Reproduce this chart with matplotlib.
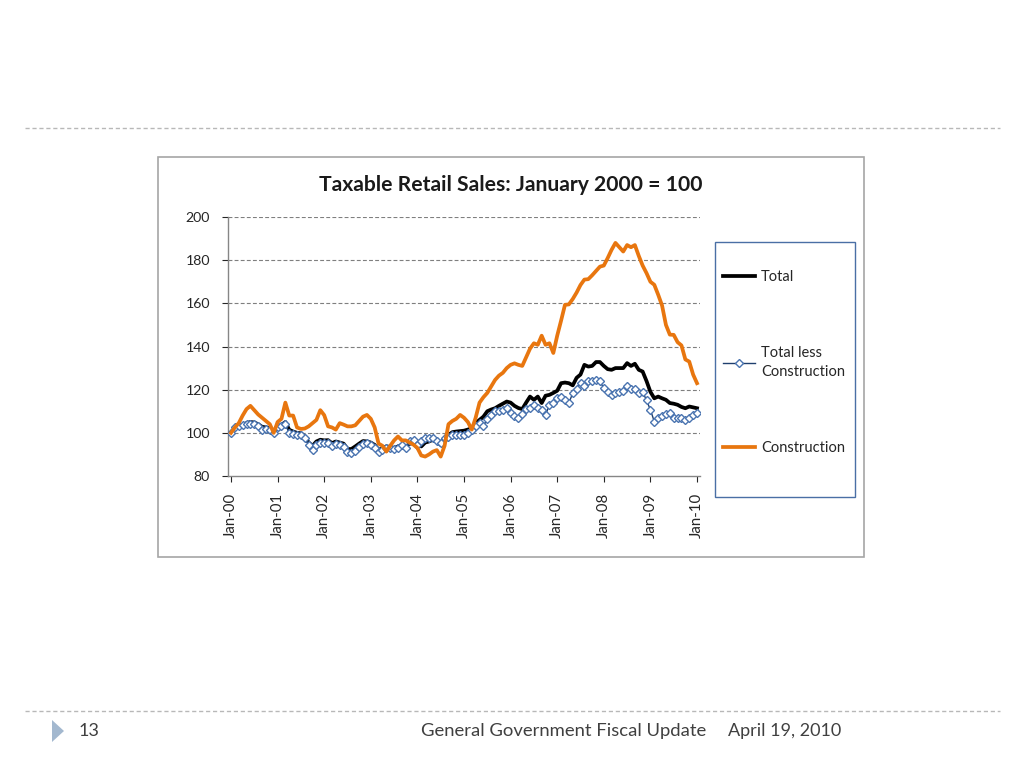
import matplotlib
matplotlib.use("Agg")
import matplotlib.pyplot as plt
from matplotlib.lines import Line2D
from matplotlib.patches import Rectangle, Polygon
import numpy as np

plt.rcParams['font.family'] = ['Lato', 'DejaVu Sans']

# ---------------- data (monthly index, Jan 2000 = 100) ----------------
year_labels = ['Jan-00', 'Jan-01', 'Jan-02', 'Jan-03', 'Jan-04', 'Jan-05',
               'Jan-06', 'Jan-07', 'Jan-08', 'Jan-09', 'Jan-10']

total = [
    100, 102.5, 103, 103.7, 104.5, 105, 104.8, 104, 102.8, 102.5, 102.2, 100.6,
    102.9, 103.7, 105, 101.4, 100.6, 100, 99.8, 98.3, 95.5, 94, 96, 96.8,
    96.5, 96.6, 95.2, 96, 95.5, 95, 92.5, 92.5, 93.7, 95, 96.2, 96,
    95.5, 94.4, 92.1, 92.9, 93.7, 93.5, 92.9, 93.7, 94.4, 93.5, 95, 96,
    94.5, 93.7, 95.5, 96, 96.8, 96, 94.4, 97, 99, 100.3, 100.6, 100.8,
    101, 101.5, 102.2, 104.5, 106, 107.5, 110, 110.8, 111.4, 112.5, 113.5, 114.5,
    114, 112.5, 111.5, 111, 114, 116.8, 115.3, 116.8, 113.8, 117.2, 117.6, 118.5,
    119.5, 123, 123.3, 123, 122, 125.5, 127, 131.5, 130.7, 131, 132.8, 132.8,
    131, 129.5, 129.2, 130, 130, 130, 132.3, 131, 132, 129.2, 128.4, 124,
    119, 116, 116.8, 116, 115.3, 113.8, 113.5, 113, 112, 111.4, 112.2, 111.8,
    111.4,
]

total_less_construction = [
    100, 102.5, 103, 103.5, 104, 104.3, 104, 103, 101.5, 101.8, 101.5, 100,
    102.5, 103, 104, 100, 99.5, 99.2, 98.8, 97.5, 94.5, 92, 94.5, 95.2,
    95.5, 95.5, 94, 95, 94.5, 93.5, 91, 90.6, 91.5, 93.5, 95, 95.2,
    94.5, 93, 91, 92, 93, 93, 92.5, 93, 94.5, 93, 96, 96.8,
    94.5, 96, 97.5, 97.5, 97.5, 96, 95.2, 97.5, 98.3, 99.1, 99.1, 99.1,
    99.1, 100, 101.4, 103, 104.5, 103, 106.5, 108.3, 109.9, 110.3, 110.7, 111.4,
    109.1, 107.6, 106.8, 108.5, 111, 111.4, 113, 111.4, 110.7, 108.3, 113, 113.8,
    116, 116.8, 115.3, 113.8, 118.4, 120.5, 123, 121.5, 123.8, 124.2, 124.5, 123.8,
    120.7, 119, 117.6, 118.4, 119, 119.5, 121.5, 120.2, 120.5, 118.4, 119.1, 115,
    110.7, 105.2, 106.8, 107.6, 108.5, 109.1, 106.8, 107, 106.8, 106, 107, 108.3,
    109.1,
]

construction = [
    100, 102.5, 104.5, 108, 111, 112.5, 110.5, 108.5, 107, 105.5, 104, 100,
    105, 106.5, 114, 108, 108, 102.5, 101.8, 102, 103, 104.5, 106, 110.5,
    108.2, 103, 102.5, 101.5, 104.5, 103.8, 103, 103, 103.5, 105.5, 107.5, 108.3,
    106.5, 102.5, 95, 94, 91.3, 94, 96.5, 98.3, 96.5, 96.5, 95.5, 94.5,
    93, 89.5, 89, 90, 91.3, 92, 89, 94, 104, 105.5, 106.5, 108.3,
    107, 105, 101.5, 107, 114, 116.5, 118.5, 121.5, 124.5, 126.5, 127.8, 130,
    131.5, 132.2, 131.5, 131, 135, 139, 141.5, 140.8, 145, 140.8, 141.5, 137,
    145, 152, 159.3, 159.5, 162, 165, 168.5, 171, 171.2, 173, 175, 177,
    177.5, 181, 184.8, 188, 186, 184, 187, 186, 187, 182, 177.5, 174,
    170, 168.6, 164, 159, 150, 145.5, 145.4, 142, 140.5, 134, 133, 127,
    123,
]

months = np.arange(len(total))
year_ticks = np.arange(0, len(total), 12)

# ---------------- figure ----------------
W, H = 1024, 768
fig = plt.figure(figsize=(W / 100, H / 100), dpi=100)
fig.patch.set_facecolor('white')

def fx(px):
    return px / W

def fy(py):
    return 1 - py / H

# slide decorations
fig.add_artist(Line2D([fx(25), fx(1000)], [fy(128), fy(128)], color='#b8b8b8',
                      lw=1, ls=(0, (3, 2)), transform=fig.transFigure))
fig.add_artist(Line2D([fx(25), fx(1000)], [fy(711), fy(711)], color='#b8b8b8',
                      lw=1, ls=(0, (3, 2)), transform=fig.transFigure))
fig.add_artist(Polygon([[fx(52), fy(720)], [fx(52), fy(742)], [fx(64), fy(731)]],
                       closed=True, facecolor='#a3b8cf', edgecolor='none',
                       transform=fig.transFigure))
fig.text(fx(79), fy(731), '13', fontsize=13, color='#404040', va='center', ha='left')
fig.text(fx(706), fy(731), 'General Government Fiscal Update', fontsize=13.3,
         color='#404040', va='center', ha='right')
fig.text(fx(728), fy(731), 'April 19, 2010', fontsize=13, color='#404040',
         va='center', ha='left')

# chart frame
fig.add_artist(Rectangle((fx(158), fy(557)), fx(864) - fx(158), fy(157) - fy(557),
                         fill=False, edgecolor='#a6a6a6', lw=1.2,
                         transform=fig.transFigure))

# axes
ax_left, ax_right = 228, 700
ax_top, ax_bottom = 217, 476
ax = fig.add_axes([fx(ax_left), fy(ax_bottom), fx(ax_right) - fx(ax_left),
                   fy(ax_top) - fy(ax_bottom)])
ax.set_xlim(-0.77, 120.77)
ax.set_ylim(80, 200)

l1, = ax.plot(months, total, color='black', lw=2.7, solid_joinstyle='round',
              label='Total', zorder=3)
l2, = ax.plot(months, total_less_construction, color='#1f3f6e', lw=1.0,
              marker='D', markersize=4.2, markerfacecolor='white',
              markeredgecolor='#4a74b0', markeredgewidth=1.0,
              label='Total less\nConstruction', zorder=4)
l3, = ax.plot(months, construction, color='#e8760f', lw=2.7,
              solid_joinstyle='round', label='Construction', zorder=5)

ax.set_yticks(np.arange(80, 201, 20))
ax.set_xticks(year_ticks)
ax.set_xticklabels(year_labels, rotation=90)
ax.tick_params(axis='both', colors='#262626', length=4,
               direction='out', width=0.8)
ax.tick_params(axis='x', labelsize=10.8, pad=8)
ax.tick_params(axis='y', labelsize=10.2, pad=9)
for t in ax.get_xticklines() + ax.get_yticklines():
    t.set_color('#868686')
for y in range(100, 201, 20):
    ax.axhline(y, color='#7f7f7f', lw=0.8, ls=(0, (3.5, 2)), zorder=1)
for s in ['top', 'right']:
    ax.spines[s].set_visible(False)
for s in ['left', 'bottom']:
    ax.spines[s].set_color('#868686')
    ax.spines[s].set_linewidth(1.0)

fig.text(fx(511), fy(185), 'Taxable Retail Sales: January 2000 = 100',
         fontsize=15.2, fontweight='bold', color='#1a1a1a', ha='center', va='center')

# legend
fig.add_artist(Rectangle((fx(715), fy(497)), fx(855) - fx(715), fy(242) - fy(497),
                         fill=False, edgecolor='#4a6fa5', lw=1.0,
                         transform=fig.transFigure))
leg = fig.legend(handles=[l1, l2, l3], loc='upper left',
                 bbox_to_anchor=(fx(723), fy(270)), frameon=False,
                 fontsize=10.5, labelspacing=4.25, handlelength=2.2,
                 handletextpad=0.4, borderpad=0, borderaxespad=0)
for t in leg.get_texts():
    t.set_color('#262626')
    t.set_linespacing(1.5)

fig.savefig('out.png', dpi=100, facecolor='white')
